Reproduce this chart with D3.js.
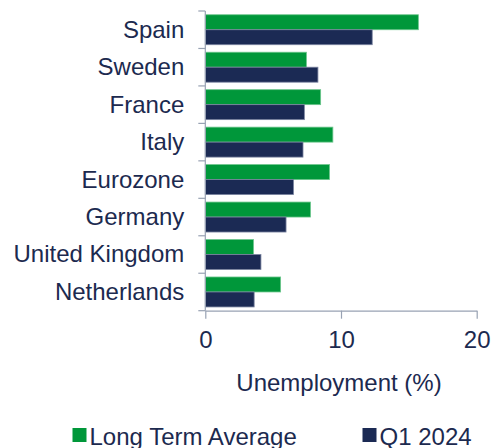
<!DOCTYPE html>
<html>
<head>
<meta charset="utf-8">
<script src="https://cdn.jsdelivr.net/npm/d3@7"></script>
<style>
  body { margin: 0; background: #fff; }
  text { font-family: "Liberation Sans", Arial, sans-serif; fill: #1c2a4f; }
</style>
</head>
<body>
<svg class="chart"></svg>
<script>
const countries = ["Spain", "Sweden", "France", "Italy", "Eurozone", "Germany", "United Kingdom", "Netherlands"];
const longTermAverage = [15.7, 7.45, 8.5, 9.4, 9.15, 7.75, 3.55, 5.55];
const q12024 = [12.3, 8.3, 7.3, 7.2, 6.5, 5.95, 4.1, 3.6];
const seriesNames = ["Long Term Average", "Q1 2024"];
const xTicks = [0, 10, 20];

const canvas = {width: 493, height: 448};
const plot = {left: 205.3, right: 476.7, top: 11, bottom: 310.7};
const colors = {green: "#00973a", navy: "#1b2a54"};
const strokes = {green: "#6cc58c", navy: "#7b84a0"};
const axisColor = "#98a2b3";
const fontSize = 24;

const svg = d3.select(".chart")
    .attr("width", canvas.width)
    .attr("height", canvas.height);

const x = d3.scaleLinear().domain([0, 20]).range([plot.left, plot.right]);
const y = d3.scaleBand().domain(countries).range([plot.top, plot.bottom])
    .paddingInner(0.2).paddingOuter(0.1);
const ySub = d3.scaleBand().domain(seriesNames).range([0, y.bandwidth()]);

const rows = countries.map(function (c, i) {
    return {country: c, values: [
        {series: seriesNames[0], value: longTermAverage[i], key: "green"},
        {series: seriesNames[1], value: q12024[i], key: "navy"}
    ]};
});

// bars
const groups = svg.selectAll(".row")
    .data(rows)
    .enter()
    .append("g")
    .attr("class", "row")
    .attr("transform", function (d) { return "translate(0," + y(d.country) + ")"; });

groups.selectAll("rect")
    .data(function (d) { return d.values; })
    .enter()
    .append("rect")
    .attr("x", x(0))
    .attr("y", function (d) { return ySub(d.series); })
    .attr("width", function (d) { return x(d.value) - x(0); })
    .attr("height", ySub.bandwidth())
    .attr("fill", function (d) { return colors[d.key]; })
    .attr("stroke", function (d) { return strokes[d.key]; })
    .attr("stroke-width", 0.8);

// y axis: line + ticks at category boundaries
const step = y.step();
const boundaries = countries.map(function (c) { return y(c) - (step - y.bandwidth()) / 2; });
boundaries.push(plot.bottom);

svg.append("line")
    .attr("x1", x(0)).attr("x2", x(0))
    .attr("y1", plot.top).attr("y2", plot.bottom)
    .attr("stroke", axisColor).attr("stroke-width", 1.2);

svg.selectAll(".ytick")
    .data(boundaries)
    .enter()
    .append("line")
    .attr("class", "ytick")
    .attr("x1", x(0) - 7).attr("x2", x(0))
    .attr("y1", function (d) { return d; })
    .attr("y2", function (d) { return d; })
    .attr("stroke", axisColor).attr("stroke-width", 1.2);

const yAxis = svg.append("g")
    .attr("transform", "translate(" + (x(0) - 21) + ",0)")
    .call(d3.axisLeft(y).tickSize(0).tickPadding(0));
yAxis.select(".domain").remove();
yAxis.selectAll("text")
    .attr("font-size", fontSize)
    .attr("font-family", null)
    .attr("fill", null)
    .attr("dy", "0.33em");

// x axis
const xAxis = svg.append("g")
    .attr("transform", "translate(0," + plot.bottom + ")")
    .call(d3.axisBottom(x).tickValues(xTicks).tickSize(8).tickSizeOuter(0).tickPadding(12));
xAxis.select(".domain").attr("stroke", axisColor).attr("stroke-width", 1.2);
xAxis.selectAll("line").attr("stroke", axisColor).attr("stroke-width", 1.2);
xAxis.selectAll("text")
    .attr("font-size", fontSize)
    .attr("font-family", null)
    .attr("fill", null);

svg.append("text")
    .attr("x", x(10) - 2)
    .attr("y", 390.5)
    .attr("text-anchor", "middle")
    .attr("font-size", fontSize)
    .text("Unemployment (%)");

// legend
const legendItems = [
    {name: seriesNames[0], key: "green", x: 72.5},
    {name: seriesNames[1], key: "navy", x: 362.5}
];
const legend = svg.selectAll(".legend")
    .data(legendItems)
    .enter()
    .append("g")
    .attr("class", "legend")
    .attr("transform", function (d) { return "translate(" + d.x + ",0)"; });
legend.append("rect")
    .attr("x", 0).attr("y", 428)
    .attr("width", 14).attr("height", 14)
    .attr("fill", function (d) { return colors[d.key]; });
legend.append("text")
    .attr("x", 17).attr("y", 444.5)
    .attr("font-size", fontSize)
    .text(function (d) { return d.name; });
</script>
</body>
</html>
